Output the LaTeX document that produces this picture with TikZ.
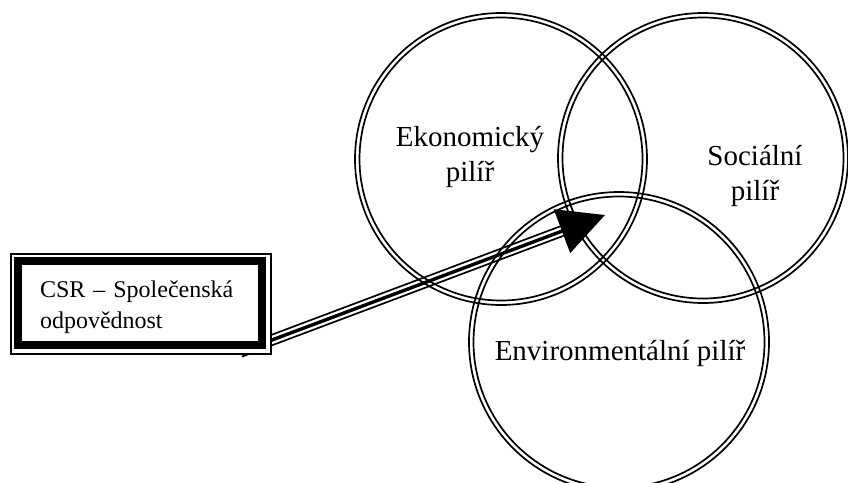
\documentclass[tikz,border=0pt]{standalone}
\usepackage{fontspec}
\setmainfont{Liberation Serif}
\usetikzlibrary{arrows.meta}
\begin{document}
\begin{tikzpicture}[x=1pt,y=-1pt,
  ring/.style={circle,draw,line width=1.7pt,inner sep=0pt,outer sep=0pt},
  ringin/.style={line width=1.7pt},
  lab/.style={font=\fontsize{29}{35}\selectfont,align=center,inner sep=0pt},
  thinline/.style={line width=1.7pt},
  boxstyle/.style={draw,line width=8.5pt,fill=white,outer sep=0pt,
    minimum width=244pt,minimum height=84pt,inner xsep=22pt,inner ysep=0pt,
    text width=200pt,align=left,font=\fontsize{24}{31}\selectfont}]
\useasboundingbox (0,0) rectangle (848,482);

% circles (double outlines)
\node[ring,minimum size=292pt] (eko) at (501,159) {};
\draw[ringin] (eko.center) circle[radius=141.5pt];
\node[ring,minimum size=290pt] (soc) at (703,158) {};
\draw[ringin] (soc.center) circle[radius=140.5pt];
\node[ring,minimum size=300pt] (env) at (619,342) {};
\draw[ringin] (env.center) circle[radius=145.5pt];

% labels
\node[lab] (ekotext) at (470,157) {Ekonomický\\pilíř};
\node[lab] (soctext) at (755,176) {Sociální\\pilíř};
\node[lab] (envtext) at (620,353) {Environmentální pilíř};

% arrow (triple line)
\coordinate (s) at (240,352);
\coordinate (m) at (562,231);
\coordinate (tip) at (605,215);
\draw[thinline] ([shift={(1.76,4.68)}]s) -- ([shift={(1.76,4.68)}]m);
\draw[thinline] ([shift={(-1.76,-4.68)}]s) -- ([shift={(-1.76,-4.68)}]m);
\draw[line width=3.4pt,-{Triangle[length=46pt,width=46pt]}] (s) -- (tip);

% CSR box
\draw[thinline,fill=white] (11,254) rectangle (271,354);
\node[boxstyle] (csr) at (140,303) {\rule{0pt}{25pt}CSR – Společenská\\odpovědnost};
\end{tikzpicture}
\end{document}
